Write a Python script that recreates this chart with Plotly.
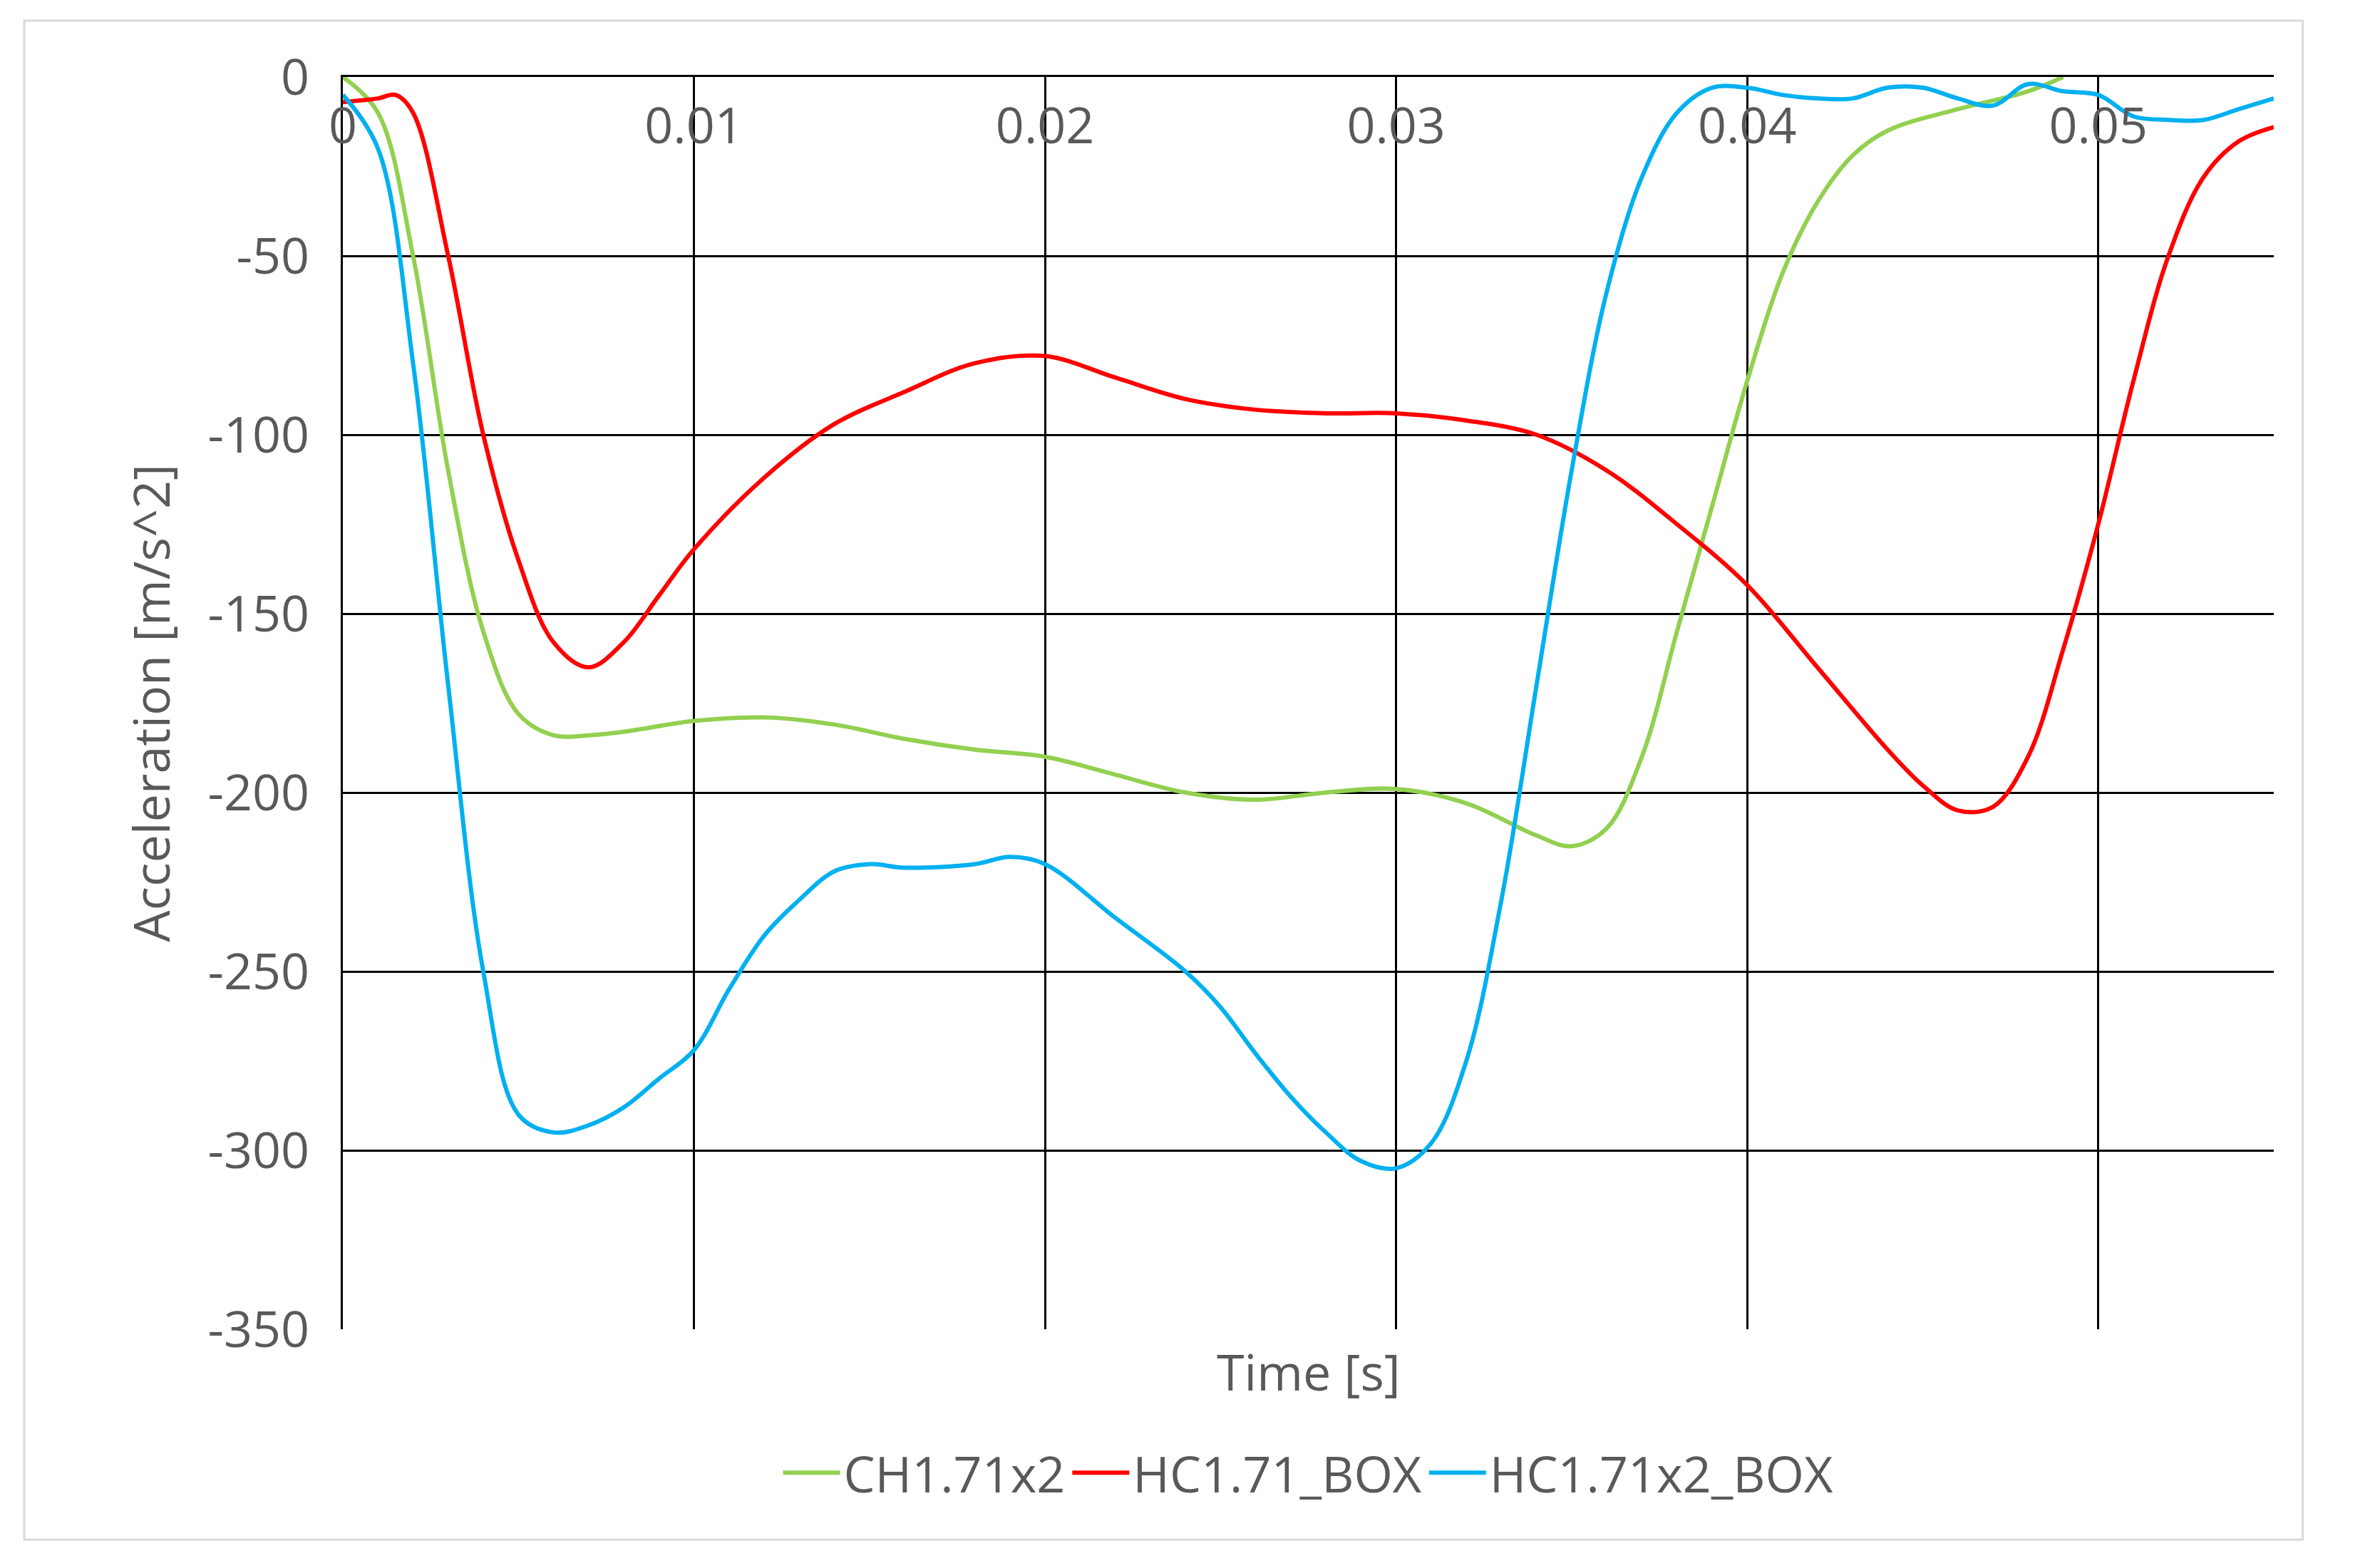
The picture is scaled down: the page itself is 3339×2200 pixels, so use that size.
import plotly.graph_objects as go

green_t = [0, 0.001, 0.002, 0.003, 0.004, 0.005, 0.006, 0.007, 0.008, 0.01, 0.012, 0.014, 0.016, 0.018, 0.02,
           0.022, 0.024, 0.026, 0.028, 0.03, 0.032, 0.034, 0.035, 0.036, 0.037, 0.038, 0.039, 0.04, 0.041,
           0.042, 0.043, 0.044, 0.046, 0.048, 0.049]
green_a = [0, -10, -50, -110, -155, -178, -184, -184, -183, -180, -179, -181, -185, -188, -190,
           -195, -200, -202, -200, -199, -203, -212, -215, -210, -190, -155, -120, -85, -55,
           -35, -22, -15, -9, -4, 0]

red_t = [0, 0.001, 0.0015, 0.002, 0.003, 0.004, 0.005, 0.006, 0.007, 0.008, 0.009, 0.01, 0.012, 0.014,
         0.016, 0.018, 0.02, 0.022, 0.024, 0.026, 0.028, 0.03, 0.032, 0.034, 0.036, 0.038, 0.04, 0.042,
         0.044, 0.045, 0.046, 0.047, 0.048, 0.049, 0.05, 0.051, 0.052, 0.053, 0.054, 0.055]
red_a = [-7, -6, -5, -10, -50, -100, -135, -158, -165, -158, -145, -132, -112, -97,
         -88, -80, -78, -84, -90, -93, -94, -94, -96, -100, -110, -125, -142, -165,
         -188, -198, -205, -204, -190, -160, -125, -85, -50, -28, -18, -14]

blue_t = [0, 0.001, 0.002, 0.003, 0.004, 0.005, 0.006, 0.007, 0.008, 0.009, 0.01, 0.011, 0.012, 0.013,
          0.014, 0.015, 0.016, 0.018, 0.019, 0.02, 0.022, 0.024, 0.025, 0.026, 0.027, 0.028, 0.029, 0.03,
          0.031, 0.032, 0.033, 0.034, 0.035, 0.036, 0.037, 0.038, 0.039, 0.04, 0.041, 0.042, 0.043, 0.044,
          0.045, 0.046, 0.047, 0.048, 0.049, 0.05, 0.051, 0.052, 0.053, 0.054, 0.055]
blue_a = [-5, -20, -80, -170, -250, -290, -295, -293, -288, -280, -272, -255, -240, -230,
          -222, -220, -221, -220, -218, -220, -235, -250, -260, -273, -285, -295, -303, -305,
          -298, -275, -230, -170, -110, -60, -28, -10, -3, -3, -5, -6, -6, -3,
          -3, -6, -8, -2, -4, -5, -11, -12, -12, -9, -6]

x_ticks = [0, 0.01, 0.02, 0.03, 0.04, 0.05]
x_labels = ["0", "0.01", "0.02", "0.03", "0.04", "0.05"]
y_ticks = [0, -50, -100, -150, -200, -250, -300, -350]
y_labels = ["0", "-50", "-100", "-150", "-200", "-250", "-300", "-350"]

fig = go.Figure()
for name, t, a, color in [
    ("CH1.71x2", green_t, green_a, "#92D050"),
    ("HC1.71_BOX", red_t, red_a, "#FF0000"),
    ("HC1.71x2_BOX", blue_t, blue_a, "#00B0F0"),
]:
    fig.add_trace(go.Scatter(x=t, y=a, mode="lines", name=name,
                             line=dict(color=color, width=6, shape="spline", smoothing=1)))

axis_font = dict(family="Open Sans, Liberation Sans", size=70, color="#595959")
fig.update_layout(
    width=3339, height=2200,
    paper_bgcolor="white", plot_bgcolor="white",
    margin=dict(l=473, r=157, t=100, b=343),
    font=axis_font,
    xaxis=dict(range=[0, 0.055], tickvals=x_ticks, ticktext=x_labels, side="top",
               ticklabelposition="inside", ticklabeloverflow="allow", ticklabelstandoff=55,
               showgrid=True, gridcolor="black", gridwidth=3,
               zeroline=False, showline=True, linecolor="black", linewidth=3,
               tickfont=axis_font),
    yaxis=dict(range=[-350, 0], tickvals=y_ticks, ticktext=y_labels, ticklabeloverflow="allow",
               showgrid=True, gridcolor="black", gridwidth=3,
               zeroline=False, showline=True, linecolor="black", linewidth=3,
               title=dict(text="Acceleration [m/s^2]", font=axis_font, standoff=30),
               tickfont=axis_font, ticks="outside", ticklen=0, ticklabelstandoff=30),
    legend=dict(orientation="h", x=0.5, xanchor="center", y=-0.085, yanchor="top",
                font=axis_font, itemwidth=80, tracegroupgap=40),
    shapes=[dict(type="rect", xref="paper", yref="paper", x0=-0.165, x1=1.015, y0=-0.168, y1=1.045,
                 line=dict(color="#D9D9D9", width=3))],
    annotations=[dict(text="Time [s]", xref="paper", yref="paper", x=0.5, y=-0.005, yanchor="top",
                      showarrow=False, font=axis_font)],
)

fig.write_html("out.html")
